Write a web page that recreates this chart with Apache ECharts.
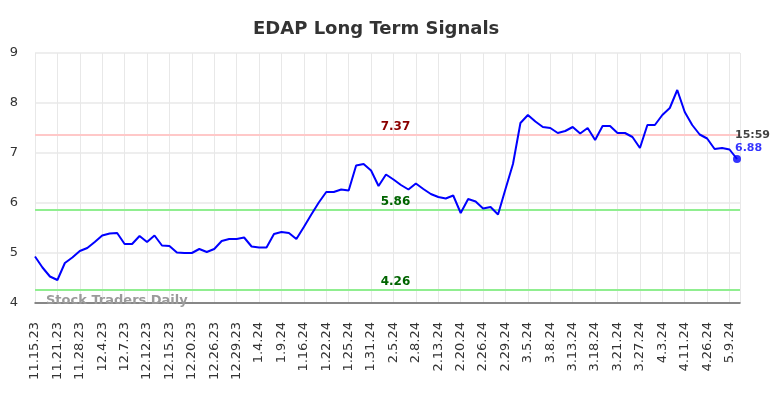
<!DOCTYPE html>
<html>
<head>
<meta charset="utf-8">
<title>EDAP Long Term Signals</title>
<script src="https://cdn.jsdelivr.net/npm/echarts@6/dist/echarts.min.js"></script>
<style>
    html, body { margin: 0; padding: 0; background: #fff; }
    #main { width: 784px; height: 398px; }
</style>
</head>
<body>
<div id="main"></div>
<script>
    // tick labels, one every 3 points
    var tickLabels = ['11.15.23','11.21.23','11.28.23','12.4.23','12.7.23','12.12.23','12.15.23','12.20.23',
        '12.26.23','12.29.23','1.4.24','1.9.24','1.16.24','1.22.24','1.25.24','1.31.24','2.5.24','2.8.24',
        '2.13.24','2.20.24','2.26.24','2.29.24','3.5.24','3.8.24','3.13.24','3.18.24','3.21.24','3.27.24',
        '4.3.24','4.11.24','4.26.24','5.9.24'];

    // closing prices
    var prices = [4.93,4.71,4.53,4.46,4.80,4.91,5.04,5.10,5.22,5.35,
        5.39,5.40,5.18,5.18,5.34,5.22,5.35,5.15,5.14,5.01,
        5.00,5.00,5.08,5.02,5.08,5.24,5.28,5.28,5.31,5.13,
        5.11,5.11,5.38,5.42,5.40,5.28,5.52,5.77,6.01,6.22,
        6.22,6.27,6.25,6.75,6.78,6.65,6.34,6.57,6.47,6.36,
        6.27,6.39,6.28,6.18,6.12,6.09,6.15,5.80,6.08,6.03,
        5.89,5.92,5.77,6.28,6.78,7.60,7.76,7.63,7.52,7.50,
        7.40,7.44,7.52,7.39,7.50,7.26,7.54,7.54,7.40,7.40,
        7.32,7.10,7.56,7.56,7.76,7.90,8.26,7.82,7.56,7.37,
        7.29,7.08,7.10,7.07,6.88];

    // signal levels
    var resistance = [7.37];
    var supports = [5.86, 4.26];
    var lastTime = '15:59';

    var lineData = [];
    for (var i = 0; i < prices.length; i++) {
        lineData.push([i, prices[i]]);
    }
    var last = lineData[lineData.length - 1];

    var myChart = echarts.init(document.getElementById('main'));
    var option = {
        animation: false,
        textStyle: { fontFamily: 'DejaVu Sans' },
        title: {
            text: 'EDAP Long Term Signals',
            left: 248,
            top: 15,
            textStyle: { fontSize: 18, fontWeight: 'bold', color: '#333', fontFamily: 'DejaVu Sans' }
        },
        grid: { left: 35, right: 44, top: 53, bottom: 95 },
        xAxis: {
            type: 'value',
            min: 0,
            max: 94.4,
            interval: 3,
            axisLine: { show: true, lineStyle: { color: '#666', width: 1.5 } },
            axisTick: { show: false },
            splitLine: { show: true, lineStyle: { color: '#e8e8e8', width: 1 } },
            axisLabel: {
                rotate: 90,
                margin: 19,
                fontSize: 13,
                color: '#333',
                showMaxLabel: false,
                formatter: function (v) {
                    var k = Math.round(v / 3);
                    return (v % 3 === 0 && tickLabels[k]) ? tickLabels[k] : '';
                }
            }
        },
        yAxis: {
            type: 'value',
            min: 4,
            max: 9,
            interval: 1,
            axisLine: { show: false },
            axisTick: { show: false },
            splitLine: { show: true, lineStyle: { color: '#e8e8e8', width: 1.5 } },
            axisLabel: { fontSize: 13, color: '#333', margin: 17 }
        },
        graphic: [{
            type: 'text',
            left: 46,
            top: 294,
            z: 10,
            style: { text: 'Stock Traders Daily', fill: '#9a9a9a', font: 'bold 13px DejaVu Sans' }
        }],
        series: [
            {
                name: 'EDAP',
                type: 'line',
                data: lineData,
                showSymbol: false,
                lineStyle: { color: '#0000ff', width: 2 },
                itemStyle: { color: '#0000ff' },
                z: 5,
                markLine: {
                    silent: true,
                    symbol: 'none',
                    data: [
                        { yAxis: resistance[0], lineStyle: { color: '#ffc8c8', width: 2, type: 'solid' },
                          label: { color: '#8b0000' } },
                        { yAxis: supports[0], lineStyle: { color: '#90ee90', width: 2, type: 'solid' },
                          label: { color: '#006400' } },
                        { yAxis: supports[1], lineStyle: { color: '#90ee90', width: 2, type: 'solid' },
                          label: { color: '#006400' } }
                    ],
                    label: {
                        position: 'middle',
                        fontWeight: 'bold',
                        fontSize: 12,
                        distance: 2,
                        offset: [8, 0],
                        formatter: function (p) { return p.value.toFixed(2); }
                    }
                }
            },
            {
                name: 'last',
                type: 'scatter',
                data: [last],
                symbolSize: 8,
                itemStyle: { color: '#0000ff' },
                z: 6,
                label: {
                    show: true,
                    position: [2, -26],
                    align: 'left',
                    lineHeight: 13,
                    formatter: '{t|' + lastTime + '}\n{v|' + last[1].toFixed(2) + '}',
                    rich: {
                        t: { color: '#111', fontWeight: 'bold', fontSize: 11, lineHeight: 13 },
                        v: { color: '#0000ff', fontWeight: 'bold', fontSize: 11, lineHeight: 13 }
                    }
                }
            }
        ]
    };
    myChart.setOption(option);
</script>
</body>
</html>
